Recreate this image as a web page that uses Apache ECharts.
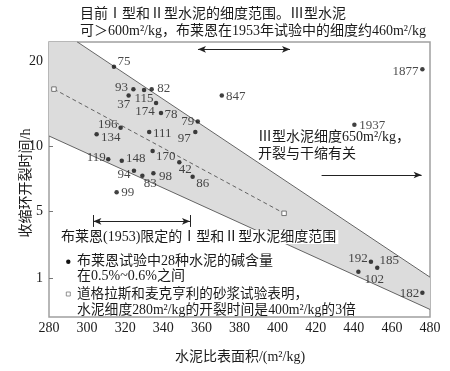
<!DOCTYPE html>
<html><head><meta charset="utf-8">
<script src="https://cdn.jsdelivr.net/npm/echarts@6/dist/echarts.min.js"></script>
<style>html,body{margin:0;padding:0;background:#fff}#c{width:450px;height:371px}</style>
</head><body><div id="c"></div>
<script>
// ---------- data ----------
const cementLabels = ['75','93','115','82','37','174','78','79','196','134','111','97','170','119','148','42','94','98','83','86','99','847','1937','1877','192','185','102','182'];
const fineness = [314.1,324.3,329.9,333.9,321.8,336.2,338.8,358.1,317.6,305.0,332.6,356.8,334.4,311.1,318.2,348.4,324.6,334.8,329.0,355.4,315.5,370.7,440.3,476.0,449.0,452.3,442.4,476.0];
const crackTime = [19.1,15.9,15.8,15.9,15.1,14.2,13.1,12.2,11.6,11.0,11.2,11.2,9.48,8.68,8.55,8.40,7.68,7.47,7.28,7.2,6.1,15.1,11.9,18.7,1.48,1.28,1.16,0.70];
const mortarFineness = [282.6, 403.4];
const mortarTime = [15.9, 4.73];
const bandUpperX = [294.7, 480], bandUpperY = [23.4, 1.02];
const bandLowerX = [280, 480], bandLowerY = [10.85, 0.47];
const currentRange = [358.2, 406.5];
const blaineRange = [303.3, 354.0];
const type3Range = [423.1, 475.6];
const xTickLabels = [280,300,320,340,360,380,400,420,440,460,480];
const yTickLabels = [1,5,10,20];

// ---------- label placement (offsets of number labels from their dots) ----------
const labelOffsets = [[10,-5],[-12,-2],[0,9],[12,-1],[-5,9],[-11,9],[10,2],[-10,0],[-13,-3],[14,3],[13,1],[-11,6],[13,6],[-12,-2],[14,-2],[6,7],[-10,4],[12,3],[8,8],[10,7],[11,0],[14,1],[18,1],[-17,2],[-13,-3],[12,-7],[16,8],[-13,1]];

// ---------- y scale (the original's uneven tick spacing) ----------
const yTickSpan = [0, 67, 132, 217];
function yPos(v){
  const t = yTickLabels, p = yTickSpan;
  let i = 0;
  while (i < t.length - 2 && v > t[i+1]) i++;
  const f = Math.log(v / t[i]) / Math.log(t[i+1] / t[i]);
  return p[i] + f * (p[i+1] - p[i]);
}
const yMin = -39, yMax = 236;

const FONT = "'Liberation Serif','Noto Sans CJK SC',serif";
const TXT = '#1a1a1a';

const chart = echarts.init(document.getElementById('c'), null, {renderer:'canvas'});

const scatterData = fineness.map((x,i)=>({
  value:[x, yPos(crackTime[i])],
  label:{offset: labelOffsets[i]}
}));

function mk(x1,y1,x2,y2,sym){
  return [{coord:[x1,yPos(y1)], symbol:sym[0]},{coord:[x2,yPos(y2)], symbol:sym[1]}];
}

const option = {
  animation:false,
  grid:{left:49,right:20,top:42,bottom:54,show:true,borderColor:'#a0a0a0',borderWidth:1.5,backgroundColor:'transparent'},
  xAxis:{type:'value',min:280,max:480,interval:20,
    axisLine:{show:false},axisTick:{show:false},splitLine:{show:false},
    axisLabel:{fontSize:14,fontFamily:FONT,color:TXT,margin:4,
      customValues: xTickLabels}},
  yAxis:{type:'value',min:yMin,max:yMax,
    axisLine:{show:false},splitLine:{show:false},
    axisTick:{show:true,inside:true,length:4,lineStyle:{color:'#777'},customValues:yTickLabels.map(yPos)},
    axisLabel:{fontSize:14,fontFamily:FONT,color:TXT,margin:6,
      customValues: yTickLabels.map(yPos),
      formatter:(v)=>{let b=yTickLabels[0],d=1e9;yTickLabels.forEach(t=>{const dd=Math.abs(yPos(t)-v);if(dd<d){d=dd;b=t;}});return String(b);}}},
  series:[
    {type:'custom',silent:true,clip:true,z:1,data:[[0,0]],
      renderItem:(params,api)=>{
        const poly = [[bandLowerX[0],yMax],[bandUpperX[0],yMax],[bandUpperX[1],yPos(bandUpperY[1])],[bandLowerX[1],yPos(bandLowerY[1])],[bandLowerX[0],yPos(bandLowerY[0])]];
        return {type:'polygon',shape:{points:poly.map(p=>api.coord(p))},style:{fill:'#dcdcdc'}};
      }},
    {type:'line',silent:true,z:2,symbol:'none',lineStyle:{color:'#555',width:0.9},
      data:bandUpperX.map((x,i)=>[x,yPos(bandUpperY[i])])},
    {type:'line',silent:true,z:2,symbol:'none',lineStyle:{color:'#555',width:0.9},
      data:bandLowerX.map((x,i)=>[x,yPos(bandLowerY[i])])},
    {type:'line',silent:true,z:3,symbol:'rect',symbolSize:4.5,
      itemStyle:{color:'#fff',borderColor:'#666',borderWidth:0.9},
      lineStyle:{color:'#555',width:0.9,type:[4,3]},
      data:mortarFineness.map((x,i)=>[x,yPos(mortarTime[i])])},
    {type:'line',silent:true,z:4,data:[],
      markLine:{silent:true,animation:false,label:{show:false},symbolSize:[5,8],
        lineStyle:{color:'#222',width:1,type:'solid'},
        data:[
          mk(currentRange[0],22,currentRange[1],22,['arrow','arrow']),
          mk(currentRange[0],23.4,currentRange[0],21.35,['none','none']),
          mk(currentRange[1],23.4,currentRange[1],21.35,['none','none']),
          mk(blaineRange[0],3.9,blaineRange[1],3.9,['arrow','arrow']),
          mk(blaineRange[0],4.54,blaineRange[0],3.41,['none','none']),
          mk(blaineRange[1],4.54,blaineRange[1],3.41,['none','none']),
          mk(type3Range[0],7.34,type3Range[1],7.34,['none','arrow'])
        ]}},
    {type:'scatter',z:5,symbolSize:4.5,itemStyle:{color:'#111'},
      label:{show:true,position:'inside',color:TXT,fontSize:13,fontFamily:FONT,textBorderWidth:0,
        formatter:(p)=>cementLabels[p.dataIndex]},
      data:scatterData}
  ],
  graphic:[
    {type:'text',left:80,top:7,style:{text:'目前Ⅰ型和Ⅱ型水泥的细度范围。Ⅲ型水泥',font:'14px '+FONT,fill:TXT}},
    {type:'text',left:80,top:24,style:{text:'可＞600m²/kg，布莱恩在1953年试验中的细度约460m²/kg',font:'14px '+FONT,fill:TXT}},
    {type:'text',left:258,top:130,style:{text:'Ⅲ型水泥细度650m²/kg，',font:'14px '+FONT,fill:TXT}},
    {type:'text',left:258,top:147,style:{text:'开裂与干缩有关',font:'14px '+FONT,fill:TXT}},
    {type:'text',left:60,top:230,z:10,style:{text:'布莱恩(1953)限定的Ⅰ型和Ⅱ型水泥细度范围',font:'14px '+FONT,fill:TXT,backgroundColor:'#fff',padding:[0,2,0,1]}},
    {type:'circle',shape:{cx:68.3,cy:261.7,r:2.2},style:{fill:'#111'}},
    {type:'text',left:77,top:254,style:{text:'布莱恩试验中28种水泥的碱含量',font:'14px '+FONT,fill:TXT}},
    {type:'text',left:77,top:269,style:{text:'在0.5%~0.6%之间',font:'14px '+FONT,fill:TXT}},
    {type:'rect',shape:{x:66.3,y:292,width:4,height:4},style:{fill:'#fff',stroke:'#777',lineWidth:0.8}},
    {type:'text',left:77,top:288,style:{text:'道格拉斯和麦克亨利的砂浆试验表明，',font:'13.6px '+FONT,fill:TXT}},
    {type:'text',left:77,top:303,style:{text:'水泥细度280m²/kg的开裂时间是400m²/kg的3倍',font:'13.8px '+FONT,fill:TXT}},
    {type:'text',x:240,y:357,style:{text:'水泥比表面积/(m²/kg)',font:'14px '+FONT,fill:TXT,align:'center',verticalAlign:'middle'}},
    {type:'text',x:26,y:183,rotation:Math.PI/2,style:{text:'收缩环开裂时间/h',font:'14px '+FONT,fill:TXT,align:'center',verticalAlign:'middle'}}
  ]
};
chart.setOption(option);
</script></body></html>
